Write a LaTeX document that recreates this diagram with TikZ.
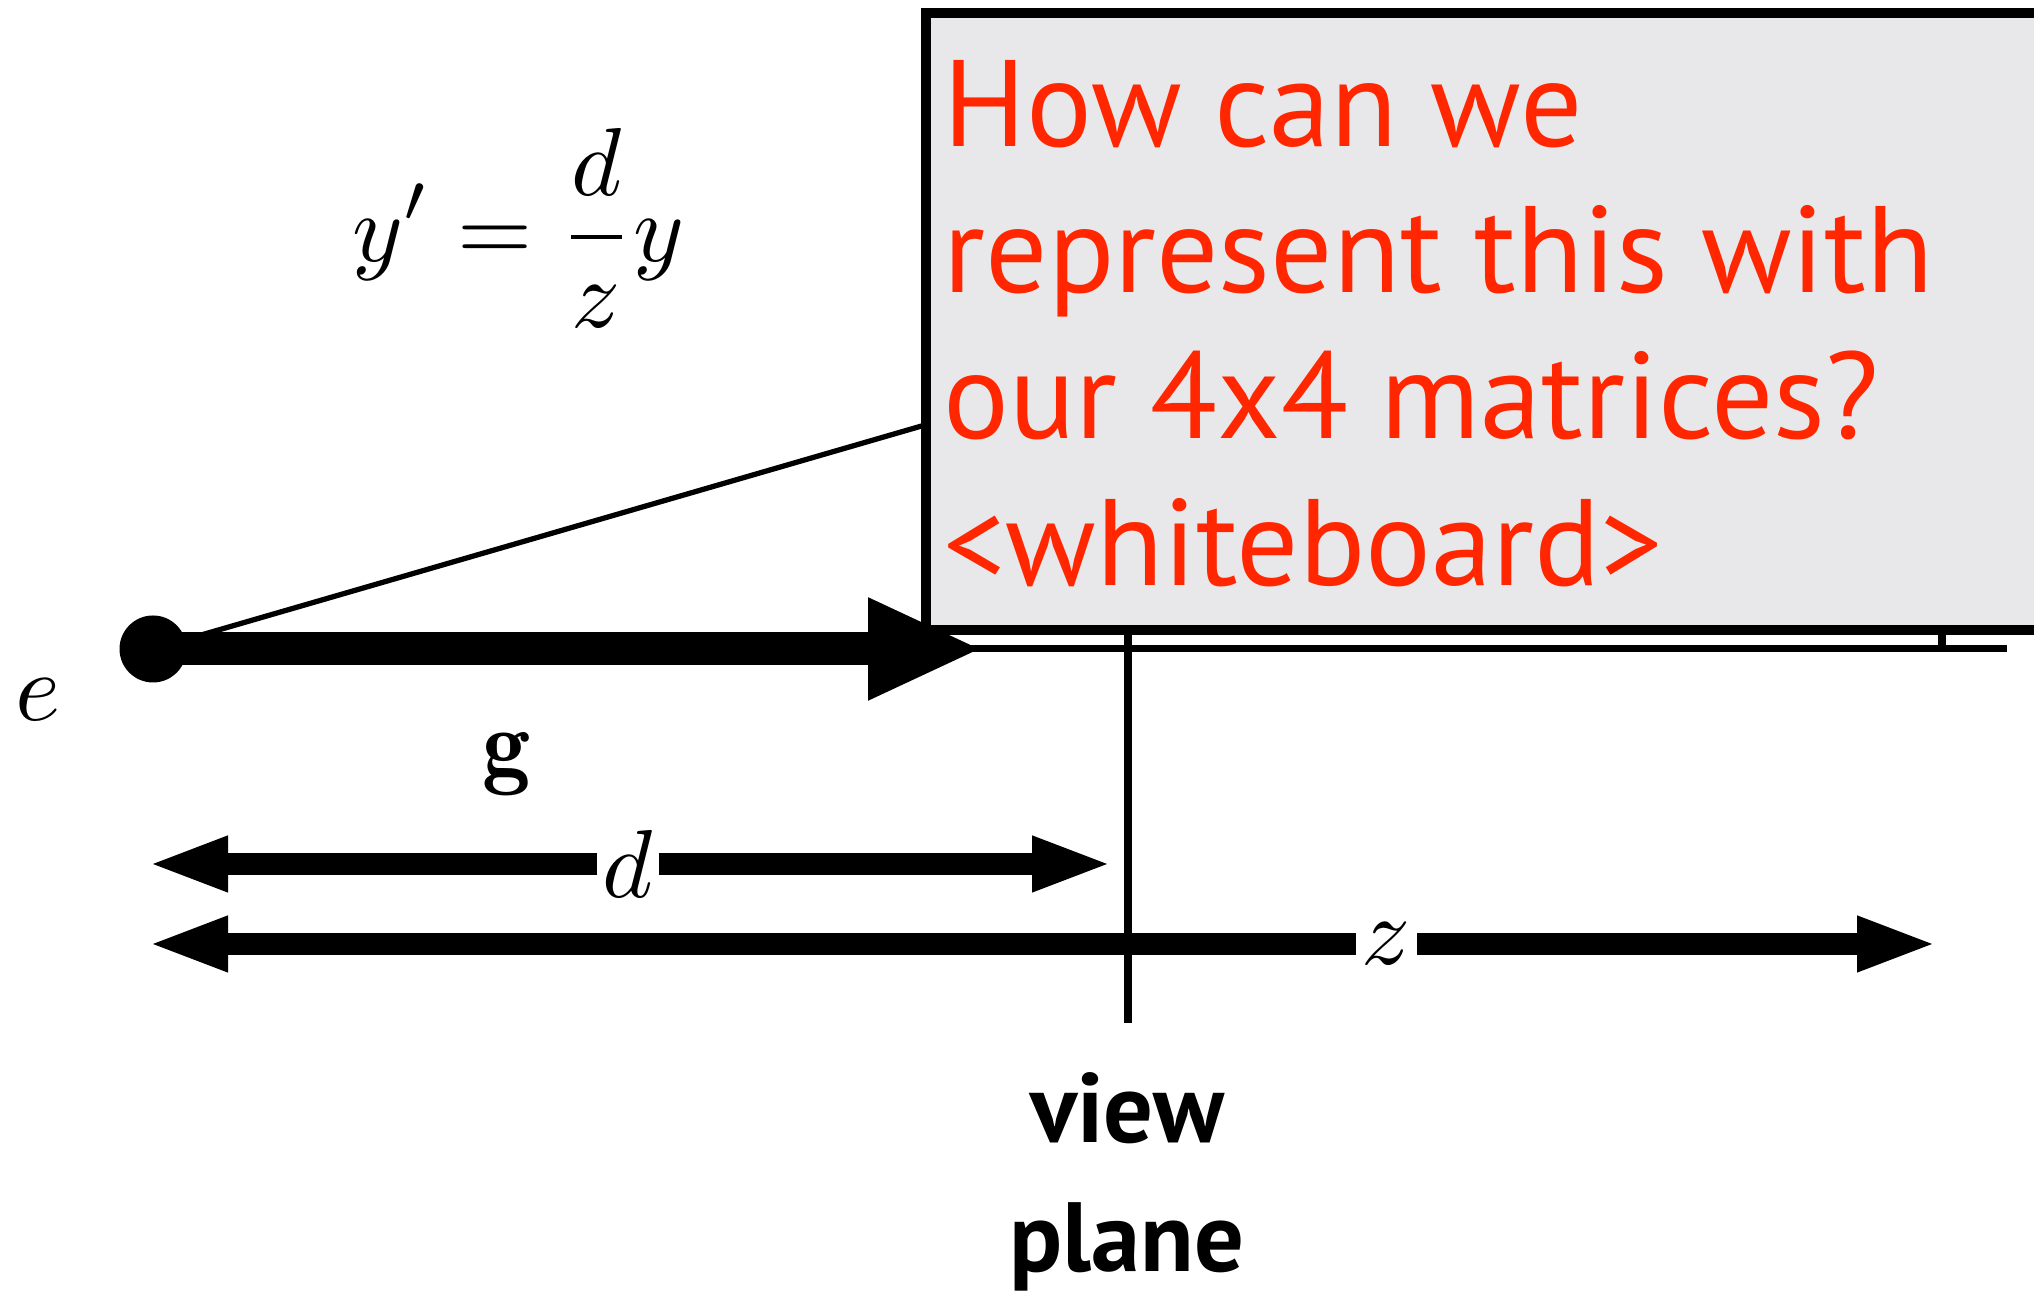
\documentclass[tikz,border=0pt]{standalone}
\usepackage{fontspec}
\newfontfamily\gillish{PT Sans}
\usetikzlibrary{arrows.meta, positioning, calc}
\definecolor{alertred}{RGB}{255,38,0}
\definecolor{boxgray}{RGB}{232,232,234}

\begin{document}
\begin{tikzpicture}[line join=miter,
    mathlbl/.style={scale=2.75, inner sep=0pt},
    gaplbl/.style={mathlbl, fill=white, inner xsep=0.6pt},
    dimarrow/.style={line width=6.4pt, {Triangle[length=0.81cm,width=0.5cm]}-{Triangle[length=0.81cm,width=0.5cm]}},
    question/.style={text=alertred, inner sep=0pt, font=\gillish\fontsize{35}{40}\selectfont},
    caption/.style={inner sep=0pt, font=\gillish\bfseries\fontsize{28}{34}\selectfont}]
    \clip (0,0) rectangle (20.34,12.97);

    \coordinate (eye) at (1.53,6.48);
    \coordinate (gtip) at (9.83,6.48);
    \coordinate (axisend) at (20.07,6.48);
    \coordinate (objbase) at (19.42,6.48);
    \coordinate (objtop) at (19.42,11.67);
    \coordinate (vpbot) at (11.28,2.74);
    \coordinate (vptop) at (11.28,8.00);

    % lines behind the box
    \draw[line width=1.5pt] (eye) -- (objtop);
    \draw[line width=2pt] (objbase) -- (objtop);
    \draw[line width=2pt] (eye) -- (axisend);
    \draw[line width=2pt] (vpbot) -- (vptop);

    % gaze direction
    \draw[line width=9.4pt, -{Triangle[length=1.15cm,width=0.94cm]}] (eye) -- (gtip);
    \fill (eye) circle (0.335);
    \node[mathlbl] (elbl) at (0.38,5.97) {$e$};
    \node[mathlbl] (glbl) at (5.07,5.33) {$\mathbf{g}$};

    % distances
    \coordinate (dL) at (1.47,4.33);
    \coordinate (dR) at (11.13,4.33);
    \coordinate (zL) at (1.47,3.53);
    \coordinate (zR) at (19.38,3.53);
    \draw[dimarrow] (dL) -- (dR) node[gaplbl, pos=0.498] (dlbl) {$d$};
    \draw[dimarrow] (zL) -- (zR) node[gaplbl, pos=0.692] (zlbl) {$z$};

    \node[mathlbl] (eqn) at (5.185,10.69) {$\displaystyle y' = \frac{d}{z}y$};

    % question box
    \draw[line width=2.8pt, fill=boxgray] (9.26,12.84) rectangle (20.50,6.67);
    \foreach \txt [count=\i] in {How can we, represent this with, our 4x4 matrices?, <whiteboard>}
        \node[question, anchor=base west] (q\i) at (9.43,{11.505-(\i-1)*1.462}) {\txt};

    \node[caption, anchor=base] (vp1) at (11.27,1.54) {view};
    \node[caption, anchor=base] (vp2) at (11.27,0.25) {plane};
\end{tikzpicture}
\end{document}
